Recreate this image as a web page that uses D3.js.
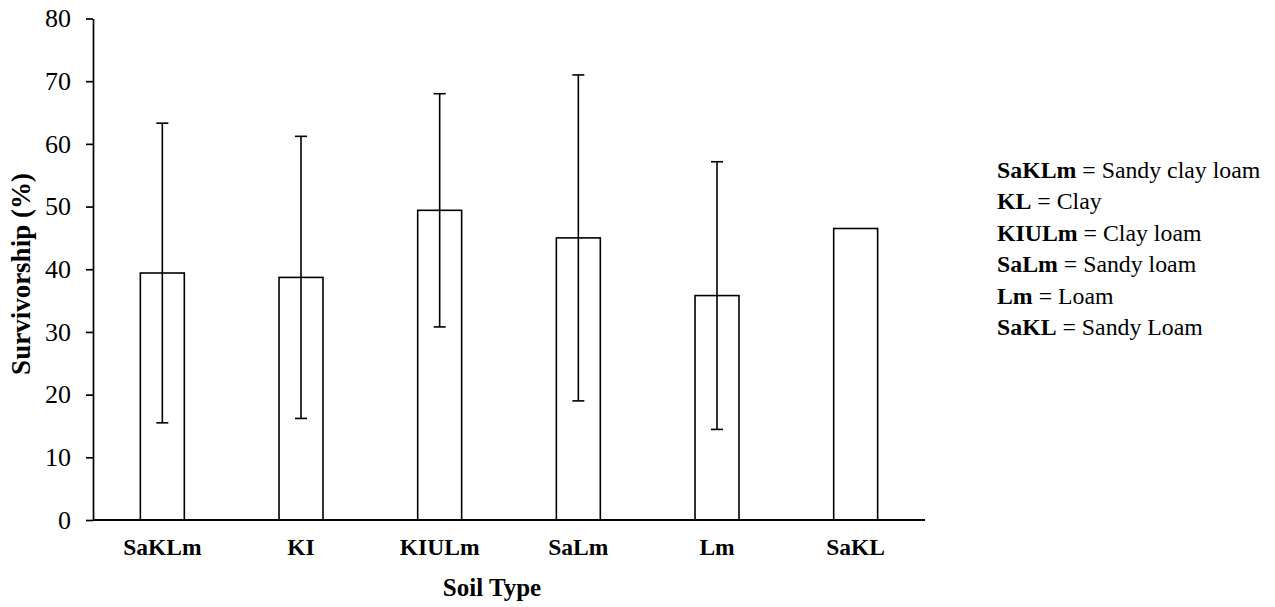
<!DOCTYPE html>
<html>
<head>
<meta charset="utf-8">
<script src="https://cdn.jsdelivr.net/npm/d3@7"></script>
<style>
  html, body { margin: 0; padding: 0; background: #fff; }
  svg { display: block; }
</style>
</head>
<body>
<svg id="chart" width="1275" height="607"></svg>
<script>
const categories = ["SaKLm", "KI", "KIULm", "SaLm", "Lm", "SaKL"];
const survivorship = [39.4, 38.7, 49.4, 45.0, 35.8, 46.5];
const errors = [23.9, 22.5, 18.6, 26.0, 21.35, 0];
const yTicks = [0, 10, 20, 30, 40, 50, 60, 70, 80];
const legendAbbr = ["SaKLm", "KL", "KIULm", "SaLm", "Lm", "SaKL"];
const legendText = ["Sandy clay loam", "Clay", "Clay loam", "Sandy loam", "Loam", "Sandy Loam"];

const serif = "Liberation Serif";
const svg = d3.select("#chart");
const plotLeft = 93, plotRight = 925, plotTop = 18.5, plotBottom = 520;

const x = d3.scaleBand().domain(categories).range([plotLeft, plotRight])
  .paddingInner(0.683).paddingOuter(0.3415);
const y = d3.scaleLinear().domain([0, 80]).range([plotBottom, plotTop]);

// Y axis
const yAxis = svg.append("g").attr("transform", `translate(${plotLeft},0)`)
  .call(d3.axisLeft(y).tickValues(yTicks).tickSize(7).tickPadding(15).tickSizeOuter(0));
yAxis.select(".domain").attr("stroke", "#000").attr("stroke-width", 1.7);
yAxis.selectAll(".tick line").attr("stroke", "#000").attr("stroke-width", 1.7);
yAxis.selectAll(".tick text").attr("fill", "#000")
  .style("font-family", serif).style("font-size", "26px").style("font-weight", "normal");

// Bars
svg.append("g").selectAll("rect").data(categories).join("rect")
  .attr("x", d => x(d))
  .attr("y", (d, i) => y(survivorship[i]))
  .attr("width", x.bandwidth())
  .attr("height", (d, i) => y(0) - y(survivorship[i]))
  .attr("fill", "#fff").attr("stroke", "#000").attr("stroke-width", 1.6);

// Error bars
const eg = svg.append("g").attr("stroke", "#000").attr("stroke-width", 1.6);
categories.forEach((c, i) => {
  if (!errors[i]) return;
  const cx = x(c) + x.bandwidth() / 2;
  const hi = y(survivorship[i] + errors[i]), lo = y(survivorship[i] - errors[i]);
  eg.append("line").attr("x1", cx).attr("x2", cx).attr("y1", hi).attr("y2", lo);
  eg.append("line").attr("x1", cx - 6).attr("x2", cx + 6).attr("y1", hi).attr("y2", hi);
  eg.append("line").attr("x1", cx - 6).attr("x2", cx + 6).attr("y1", lo).attr("y2", lo);
});

// X axis
const xAxis = svg.append("g").attr("transform", `translate(0,${plotBottom})`)
  .call(d3.axisBottom(x).tickSize(0).tickPadding(0).tickSizeOuter(0));
xAxis.select(".domain").attr("stroke", "#000").attr("stroke-width", 2).attr("d", `M${plotLeft},0H${plotRight}`);
xAxis.selectAll(".tick text").attr("y", 35).attr("dy", 0).attr("fill", "#000")
  .style("font-family", serif).style("font-size", "23.5px").style("font-weight", "bold");

// Axis titles
svg.append("text").attr("x", 492).attr("y", 596).attr("text-anchor", "middle")
  .style("font-family", serif).style("font-size", "25px").style("font-weight", "bold").text("Soil Type");
svg.append("text").attr("transform", "translate(30,274) rotate(-90)").attr("text-anchor", "middle")
  .style("font-family", serif).style("font-size", "27px").style("font-weight", "bold").text("Survivorship (%)");

// Legend text
legendAbbr.forEach((a, i) => {
  const t = svg.append("text").attr("x", 997).attr("y", 178 + i * 31.4)
    .style("font-family", serif).style("font-size", "23.8px");
  t.append("tspan").style("font-family", serif).style("font-weight", "bold").text(a);
  t.append("tspan").style("font-family", serif).style("font-weight", "normal").text(" = " + legendText[i]);
});
</script>
</body>
</html>
